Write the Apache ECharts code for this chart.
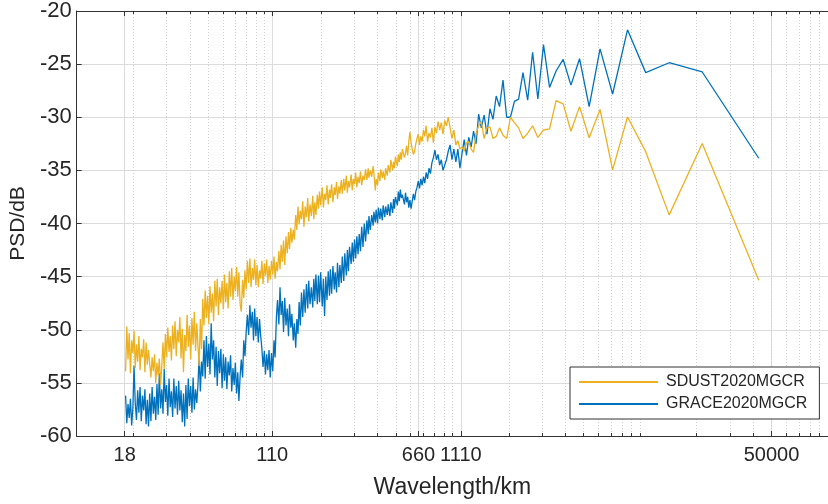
<!DOCTYPE html>
<html><head><meta charset="utf-8">
<script src="https://cdn.jsdelivr.net/npm/echarts@6/dist/echarts.min.js"></script>
<style>html,body{margin:0;padding:0;background:#fff}#c{width:828px;height:504px}</style>
</head><body><div id="c"></div>
<script>
// wavelength of degree 1 (km), read from the rightmost point
const WL1 = 42800;
const degrees = [
2350,2316,2282,2248,2215,2182,2150,2119,2088,2057,2027,1997,1968,1939,1911,1883,1855,1828,1801,1775,
1749,1723,1698,1673,1648,1624,1600,1577,1554,1531,1508,1486,1464,1443,1422,1401,1380,1360,1340,1320,
1301,1282,1263,1244,1226,1208,1191,1173,1156,1139,1122,1106,1090,1074,1058,1042,1027,1012,997,982,
968,954,940,926,913,899,886,873,860,847,835,823,811,799,787,775,764,753,742,731,
720,709,699,689,679,669,659,649,640,630,621,612,603,594,586,577,569,560,552,544,
536,528,520,512,505,497,490,483,476,469,462,455,449,442,436,429,423,417,411,405,
399,393,387,381,376,370,365,359,354,349,344,339,334,329,324,319,315,310,306,301,
297,292,288,284,280,276,272,268,264,260,256,252,249,245,241,237,234,231,228,224,
221,218,215,211,208,205,202,199,196,193,191,188,185,182,180,177,175,172,170,167,
165,162,160,157,155,153,151,148,146,144,142,140,138,136,134,132,130,128,126,124,
122,120,119,117,115,113,112,110,109,107,106,104,103,101,100,98,97,95,94,92,
91,89,88,87,86,84,83,82,81,80,79,77,76,75,74,73,72,71,70,69,
68,67,66,65,64,63,62,
61,60,59,58,57,56,55,54,53,52,
51,50,49,48,47,46,45,44,43,42,
41,40,39,38,37,36,35,34,33,32,
31,30,29,28,27,26,25,24,23,22,
21,20,19,18,17,16,15,14,13,12,
11,10,9,8,7,6,5,4,3,2,1];
const sdust = [
-53.9,-49.7,-52.8,-50.3,-54.1,-51.0,-52.2,-50.1,-53.6,-51.4,-53.0,-50.6,-53.8,-51.8,-52.6,-50.9,-54.0,-51.2,-53.3,-51.9,
-52.0,-54.5,-52.6,-53.9,-52.3,-55.0,-53.1,-54.3,-52.7,-55.2,-53.4,-51.2,-53.7,-50.4,-52.6,-49.8,-52.1,-50.6,-52.9,-49.6,
-51.8,-49.2,-52.5,-50.0,-51.2,-48.8,-52.7,-49.9,-54.0,-50.5,-52.0,-48.6,-51.6,-49.6,-52.8,-48.9,-51.4,-48.3,-52.0,-49.4,
-51.5,-53.4,-49.0,-51.8,-47.1,-49.6,-46.3,-48.9,-46.8,-49.5,-45.9,-48.4,-46.6,-49.2,-45.4,-47.8,-45.2,-48.6,-46.0,-47.5,
-45.4,-48.1,-44.8,-47.4,-45.6,-48.0,-44.5,-46.9,-44.2,-47.2,-45.0,-46.4,-44.1,-46.9,-44.6,-47.6,-48.3,-45.3,-47.0,-44.4,
-46.2,-43.5,-45.6,-43.3,-46.0,-44.2,-45.3,-43.4,-45.8,-43.9,-46.0,-44.4,-45.2,-43.5,-45.7,-43.8,-44.9,-43.4,-45.6,-44.0,
-45.3,-43.5,-44.8,-43.1,-45.2,-43.6,-44.5,-42.6,-44.3,-42.0,-43.6,-41.6,-43.9,-41.2,-42.8,-40.8,-42.4,-40.4,-41.8,-40.6,
-41.5,-39.2,-40.6,-38.4,-40.1,-38.8,-39.6,-37.9,-40.3,-38.4,-39.4,-37.6,-39.8,-38.2,-39.3,-37.4,-39.6,-38.0,-39.2,-37.3,
-38.6,-37.0,-38.3,-36.6,-38.5,-37.2,-37.8,-36.4,-38.2,-36.8,-37.6,-36.3,-38.0,-36.6,-37.3,-36.1,-37.7,-36.5,-37.2,-35.9,
-37.2,-35.8,-36.9,-35.5,-37.1,-36.0,-36.6,-35.4,-36.9,-35.8,-36.3,-35.2,-36.6,-35.6,-36.2,-35.1,-36.4,-35.5,-35.9,-34.9,
-35.9,-34.8,-35.7,-35.0,-35.6,-34.6,-35.3,-36.9,-35.8,-36.4,-35.2,-36.0,-34.9,-35.7,-35.1,-35.9,-34.8,-35.5,-34.5,-35.2,
-34.0,-35.0,-34.2,-34.8,-33.7,-34.6,-33.5,-34.2,-33.3,-34.0,-33.0,-33.8,-33.4,-32.7,-33.6,-32.3,-31.4,-32.4,-33.0,-33.5,
-33.2,-32.5,-32.0,-31.6,-32.6,-31.8,-32.3,
-31.2,-31.8,-30.8,-32.3,-31.5,-31.9,-31.0,-32.4,-30.9,-31.5,
-30.4,-31.2,-30.5,-31.6,-30.3,-30.8,-30.0,-31.0,-32.0,-31.2,
-32.6,-32.2,-33.0,-32.8,-33.2,-32.4,-32.3,-33.0,-33.3,-31.5,
-30.8,-30.4,-32.0,-31.0,-30.9,-32.0,-31.8,-31.0,-31.7,-32.0,
-30.0,-30.5,-31.0,-32.0,-31.5,-30.8,-31.9,-31.2,-31.1,-28.44,
-28.74,-31.32,-29.0,-31.93,-29.27,-34.95,-29.98,-33.24,-39.19,-32.47,-45.33];
const grace = [
-56.2,-58.8,-57.0,-58.3,-56.5,-59.0,-57.4,-53.4,-56.9,-58.5,-55.7,-57.8,-55.4,-58.6,-56.2,-57.6,-55.6,-58.9,-56.6,-59.1,
-56.0,-58.6,-55.4,-57.9,-56.3,-58.5,-55.1,-58.0,-54.1,-57.4,-55.6,-57.9,-53.7,-56.8,-55.2,-58.1,-54.6,-57.3,-55.8,-58.2,
-54.6,-57.4,-55.3,-58.0,-54.8,-57.6,-55.7,-58.7,-56.0,-59.1,-55.2,-58.4,-54.6,-57.2,-55.3,-57.8,-54.5,-57.5,-55.6,-56.9,
-55.2,-52.4,-55.8,-53.0,-54.4,-51.0,-54.6,-50.6,-53.5,-51.3,-54.2,-49.4,-52.8,-51.0,-54.5,-51.6,-55.3,-52.0,-54.1,-51.8,
-55.5,-52.3,-54.8,-52.6,-55.6,-53.0,-54.3,-52.4,-55.8,-53.6,-55.2,-53.1,-56.0,-54.0,-56.7,-54.3,-52.8,-54.5,-51.0,-52.5,
-50.2,-48.6,-50.5,-47.7,-49.8,-48.3,-51.0,-48.0,-50.6,-48.8,-51.2,-49.0,-50.5,-51.8,-53.5,-52.0,-54.2,-52.3,-53.8,-51.9,
-54.5,-52.2,-53.9,-51.0,-52.6,-48.8,-47.2,-49.5,-46.0,-48.6,-47.3,-50.2,-47.0,-49.6,-48.0,-50.6,-47.6,-49.8,-48.5,-51.0,
-49.4,-51.7,-49.0,-50.4,-47.4,-49.6,-46.5,-48.8,-46.2,-48.4,-45.7,-48.0,-45.4,-47.6,-46.0,-47.9,-45.2,-47.3,-44.8,-47.6,
-44.9,-47.4,-44.6,-47.8,-45.2,-48.7,-45.0,-47.2,-44.5,-46.8,-44.3,-46.6,-44.0,-46.2,-44.6,-46.5,-43.7,-46.0,-43.9,-45.6,
-43.1,-45.4,-42.8,-44.9,-42.5,-44.5,-42.2,-43.8,-41.8,-43.6,-41.5,-43.3,-41.2,-42.9,-41.0,-42.6,-40.3,-42.2,-40.0,-41.7,
-39.7,-41.0,-39.3,-40.6,-39.2,-40.2,-38.9,-39.9,-38.7,-40.0,-38.5,-39.6,-38.6,-39.7,-38.3,-39.4,-38.4,-39.2,-38.2,-39.3,
-38.0,-39.0,-37.7,-38.6,-37.5,-38.3,-37.0,-37.9,-36.8,-37.6,-37.3,-38.2,-37.1,-38.0,-37.5,-38.5,-37.8,-38.6,-37.9,-37.2,
-37.8,-37.0,-36.6,-36.0,-36.7,-35.8,-36.4,
-35.6,-36.2,-35.2,-35.8,-34.8,-35.3,-34.3,-33.8,-33.1,-34.0,
-33.5,-34.5,-34.0,-35.0,-35.1,-34.0,-33.2,-32.6,-34.0,-33.0,
-34.2,-33.0,-34.8,-33.4,-32.1,-33.6,-31.9,-32.8,-31.3,-32.5,
-29.7,-31.0,-29.8,-31.6,-29.2,-30.2,-28.0,-29.0,-26.5,-30.0,
-30.0,-28.5,-28.3,-25.8,-28.4,-23.88,-28.28,-23.16,-27.19,-25.65,
-24.56,-26.98,-24.49,-29.0,-23.56,-27.81,-21.77,-25.80,-24.87,-25.74,-33.86];
const xTickLabels = [18, 110, 660, 1110, 50000];
const xMinorTicks = [20,30,40,50,60,70,80,90,100,200,300,400,500,600,700,800,900,1000,
  2000,3000,4000,5000,6000,7000,8000,9000,10000,20000,30000,40000,50000,60000,70000,80000,90000];
const yTicks = [-60, -55, -50, -45, -40, -35, -30, -25, -20];
const seriesNames = ['SDUST2020MGCR', 'GRACE2020MGCR'];

const wavelength = degrees.map(n => WL1 / n);
const toPairs = vals => vals.map((v, i) => [wavelength[i], v]);

const txt = '#262626';
const axc = '#333';
const font = 'Liberation Sans, Arial, Helvetica, sans-serif';
function xAx(pos, major, main) {
  return {
    type: 'log', logBase: 10, min: 10, max: 100000, position: pos,
    name: main ? 'Wavelength/km' : '', nameLocation: 'middle', nameGap: 40,
    nameTextStyle: {color: txt, fontSize: 23, fontFamily: font},
    axisLine: {show: major, onZero: false, lineStyle: {color: axc, width: 1}},
    axisTick: {show: true, inside: true, length: major ? 5 : 3,
      customValues: major ? xTickLabels : xMinorTicks, lineStyle: {color: axc}},
    minorTick: {show: false},
    axisLabel: {show: main, customValues: xTickLabels, color: txt, fontSize: 20, fontFamily: font, margin: 9,
      formatter: v => String(Math.round(v))},
    splitLine: {show: pos === 'bottom',
      lineStyle: major ? {color: '#dcdcdc', width: 1} : {color: '#cfcfcf', width: 1, type: [1, 2]}},
    minorSplitLine: {show: false}
  };
}
const chart = echarts.init(document.getElementById('c'), null, {renderer: 'canvas'});
chart.setOption({
  backgroundColor: '#fff',
  animation: false,
  grid: {left: 73.3, top: 11, width: 762.8, height: 430, containLabel: false},
  xAxis: [xAx('bottom', true, true), xAx('top', true, false), xAx('bottom', false, false), xAx('top', false, false)],
  yAxis: {
    type: 'value', min: yTicks[0], max: yTicks[yTicks.length - 1], interval: 5,
    name: 'PSD/dB', nameLocation: 'middle', nameGap: 36,
    nameTextStyle: {color: txt, fontSize: 21, fontFamily: font},
    axisLine: {show: true, lineStyle: {color: axc}},
    axisTick: {show: true, inside: true, length: 5, lineStyle: {color: axc}},
    axisLabel: {color: txt, fontSize: 22, fontFamily: font, margin: 5},
    splitLine: {show: true, lineStyle: {color: '#dcdcdc'}}
  },
  legend: {
    orient: 'vertical', left: 570, top: 367,
    padding: [7, 12, 7, 9], itemGap: 6, itemWidth: 79, itemHeight: 2,
    backgroundColor: '#fff', borderColor: axc, borderWidth: 1,
    textStyle: {color: txt, fontSize: 16, lineHeight: 16, fontFamily: font, padding: [0, 0, 0, 3]},
    data: seriesNames.map(n => ({name: n, icon: 'rect'}))
  },
  series: [
    {name: seriesNames[0], type: 'line', xAxisIndex: 0, data: toPairs(sdust), symbol: 'none', color: '#EDB120',
     lineStyle: {width: 1.3}, z: 3},
    {name: seriesNames[1], type: 'line', xAxisIndex: 0, data: toPairs(grace), symbol: 'none', color: '#0072BD',
     lineStyle: {width: 1.3}, z: 2}
  ]
});
</script></body></html>
